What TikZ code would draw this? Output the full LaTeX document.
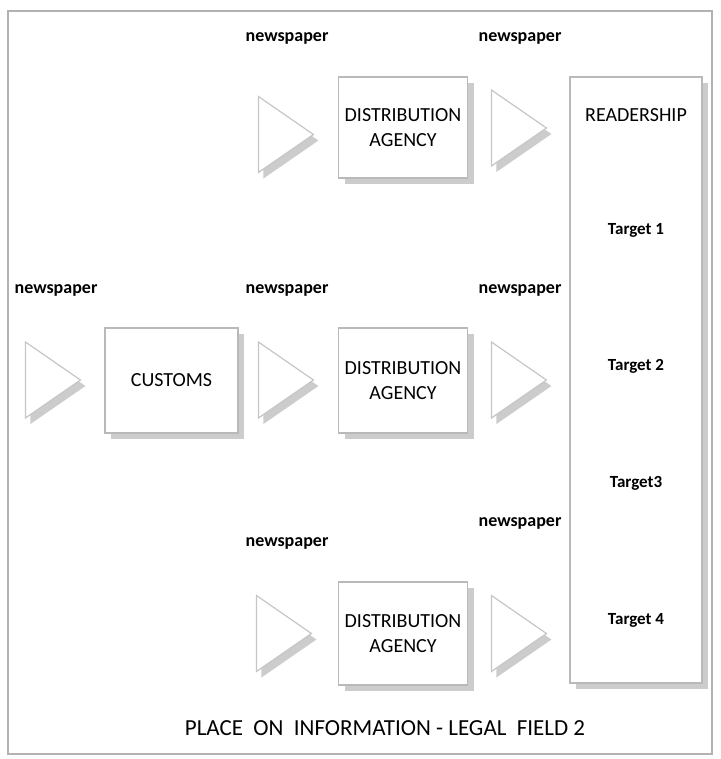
\documentclass[tikz,border=0pt]{standalone}
\usepackage{fontspec}
\setmainfont{Carlito}
\usetikzlibrary{shapes.geometric,shadows}

\begin{document}
\begin{tikzpicture}[
	x=1pt,y=-1pt,
	box/.style={draw=gray!55,line width=1.2pt,fill=white,inner sep=0pt,
		align=center,font=\fontsize{20}{25}\selectfont,
		drop shadow={shadow xshift=6pt,shadow yshift=-6pt,fill=gray!50,opacity=.8}},
	tri/.style={isosceles triangle,isosceles triangle stretches,draw=gray!45,
		line width=1.2pt,fill=white,inner sep=0pt,minimum width=76pt,minimum height=55pt,
		anchor=apex,
		drop shadow={shadow xshift=5pt,shadow yshift=-6pt,fill=gray!50,opacity=.8}},
	paper/.style={font=\fontsize{18}{20}\selectfont\bfseries},
	target/.style={font=\fontsize{17}{19}\selectfont\bfseries}
	]
	\useasboundingbox (0,0) rectangle (720,759);
	\draw[gray!60,line width=2pt] (8,11) rectangle (712,754);
	
	% top row
	\node[paper] (p1) at (287,38) {newspaper};
	\node[paper] (p2) at (520,38) {newspaper};
	\node[tri] (t1) at (315,134.5) {};
	\node[box,minimum width=129pt,minimum height=101pt] (da1) at (403,127.5) {DISTRIBUTION\\AGENCY};
	\node[tri] (t2) at (548,128) {};
	
	% middle row
	\node[paper] (p3) at (56,290) {newspaper};
	\node[paper] (p4) at (287,290) {newspaper};
	\node[paper] (p5) at (520,290) {newspaper};
	\node[tri] (t3) at (82,380) {};
	\node[box,minimum width=133pt,minimum height=105pt] (cus) at (171.5,380.5) {CUSTOMS};
	\node[tri] (t4) at (315,380) {};
	\node[box,minimum width=129pt,minimum height=105pt] (da2) at (403,380.5) {DISTRIBUTION\\AGENCY};
	\node[tri] (t5) at (548,380) {};
	
	% bottom row
	\node[paper] (p6) at (287,543) {newspaper};
	\node[paper] (p7) at (520,523) {newspaper};
	\node[tri] (t6) at (313,633.5) {};
	\node[box,minimum width=129pt,minimum height=103pt] (da3) at (403,633.5) {DISTRIBUTION\\AGENCY};
	\node[tri] (t7) at (548,633.5) {};
	
	% readership
	\node[box,minimum width=132pt,minimum height=606pt] (rd) at (636,380) {};
	\node[font=\fontsize{20}{22}\selectfont] (rdl) at (636,115) {READERSHIP};
	\node[target] (g1) at (636,230) {Target 1};
	\node[target] (g2) at (636,366) {Target 2};
	\node[target] (g3) at (636,483) {Target3};
	\node[target] (g4) at (636,620) {Target 4};
	
	\node[font=\fontsize{23}{25}\selectfont] (cap) at (385,728) {PLACE\ \ ON\ \ INFORMATION - LEGAL\ \ FIELD 2};
\end{tikzpicture}
\end{document}
